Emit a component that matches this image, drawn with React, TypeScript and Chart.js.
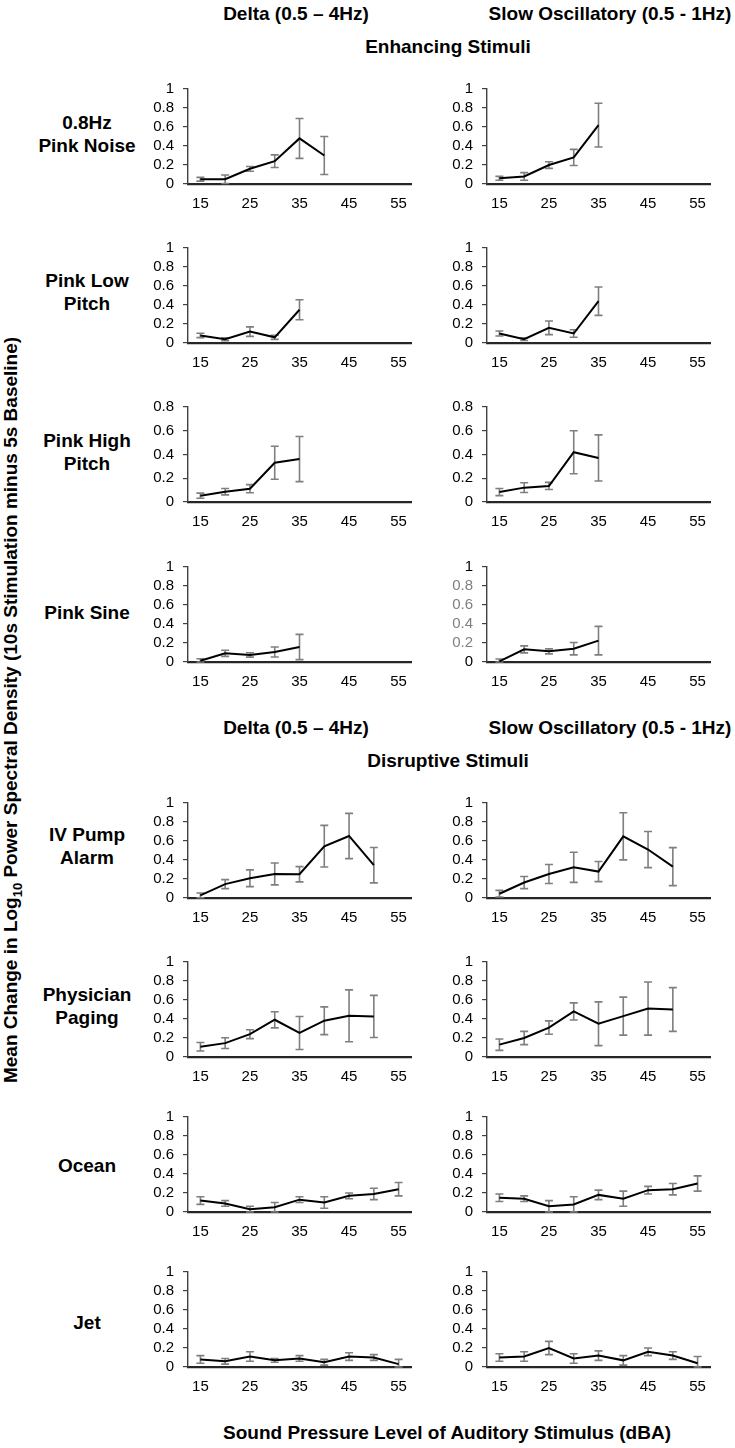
import React, { useEffect, useRef } from "react";
import { Chart, registerables } from "chart.js";

Chart.register(...registerables);
Chart.defaults.font.family = "'Liberation Sans', Arial, sans-serif";

// ---------- data ----------
const categories = ["15", "20", "25", "30", "35", "40", "45", "50", "55"];
const shownTicks = ["15", "25", "35", "45", "55"];
const columnTitles = ["Delta (0.5 \u2013 4Hz)", "Slow Oscillatory (0.5 - 1Hz)"];
const sectionTitles = ["Enhancing Stimuli", "Disruptive Stimuli"];
const rowLabels = [
  ["0.8Hz", "Pink Noise"],
  ["Pink Low", "Pitch"],
  ["Pink High", "Pitch"],
  ["Pink Sine"],
  ["IV Pump", "Alarm"],
  ["Physician", "Paging"],
  ["Ocean"],
  ["Jet"],
];
const rowYMax = [1, 1, 0.8, 1, 1, 1, 1, 1];

const pinkNoiseDelta = [0.05, 0.05, 0.16, 0.24, 0.48, 0.3];
const pinkNoiseDeltaErr = [0.02, 0.045, 0.025, 0.067, 0.21, 0.2];
const pinkNoiseSO = [0.06, 0.08, 0.2, 0.28, 0.62];
const pinkNoiseSOErr = [0.02, 0.04, 0.035, 0.085, 0.23];

const pinkLowDelta = [0.08, 0.04, 0.12, 0.06, 0.35];
const pinkLowDeltaErr = [0.023, 0.015, 0.05, 0.022, 0.106];
const pinkLowSO = [0.1, 0.04, 0.16, 0.1, 0.44];
const pinkLowSOErr = [0.026, 0.014, 0.072, 0.04, 0.149];

const pinkHighDelta = [0.053, 0.087, 0.112, 0.331, 0.362];
const pinkHighDeltaErr = [0.022, 0.027, 0.034, 0.139, 0.19];
const pinkHighSO = [0.084, 0.121, 0.135, 0.419, 0.371];
const pinkHighSOErr = [0.03, 0.041, 0.03, 0.181, 0.194];

const pinkSineDelta = [0.014, 0.091, 0.074, 0.105, 0.158];
const pinkSineDeltaErr = [0.02, 0.032, 0.023, 0.053, 0.133];
const pinkSineSO = [0.007, 0.133, 0.112, 0.14, 0.225];
const pinkSineSOErr = [0.025, 0.037, 0.026, 0.065, 0.15];

const ivPumpDelta = [0.028, 0.146, 0.208, 0.253, 0.25, 0.545, 0.653, 0.345];
const ivPumpDeltaErr = [0.025, 0.047, 0.088, 0.115, 0.08, 0.219, 0.238, 0.186];
const ivPumpSO = [0.045, 0.163, 0.253, 0.323, 0.278, 0.649, 0.51, 0.33];
const ivPumpSOErr = [0.035, 0.064, 0.1, 0.158, 0.106, 0.248, 0.19, 0.2];

const physicianDelta = [0.108, 0.146, 0.24, 0.392, 0.253, 0.382, 0.434, 0.427];
const physicianDeltaErr = [0.045, 0.057, 0.047, 0.085, 0.174, 0.146, 0.273, 0.222];
const physicianSO = [0.13, 0.2, 0.31, 0.48, 0.35, 0.43, 0.51, 0.5];
const physicianSOErr = [0.06, 0.07, 0.07, 0.09, 0.23, 0.2, 0.28, 0.23];

const oceanDelta = [0.12, 0.09, 0.03, 0.05, 0.13, 0.1, 0.17, 0.19, 0.24];
const oceanDeltaErr = [0.04, 0.03, 0.03, 0.05, 0.03, 0.06, 0.03, 0.06, 0.07];
const oceanSO = [0.15, 0.14, 0.06, 0.08, 0.18, 0.14, 0.23, 0.24, 0.3];
const oceanSOErr = [0.04, 0.03, 0.06, 0.08, 0.05, 0.08, 0.04, 0.06, 0.08];

const jetDelta = [0.08, 0.06, 0.11, 0.07, 0.09, 0.05, 0.11, 0.1, 0.03];
const jetDeltaErr = [0.04, 0.03, 0.05, 0.02, 0.03, 0.03, 0.04, 0.03, 0.05];
const jetSO = [0.1, 0.11, 0.2, 0.09, 0.12, 0.07, 0.16, 0.12, 0.04];
const jetSOErr = [0.04, 0.05, 0.07, 0.05, 0.05, 0.05, 0.04, 0.04, 0.07];

const seriesByRow = [
  [[pinkNoiseDelta, pinkNoiseDeltaErr], [pinkNoiseSO, pinkNoiseSOErr]],
  [[pinkLowDelta, pinkLowDeltaErr], [pinkLowSO, pinkLowSOErr]],
  [[pinkHighDelta, pinkHighDeltaErr], [pinkHighSO, pinkHighSOErr]],
  [[pinkSineDelta, pinkSineDeltaErr], [pinkSineSO, pinkSineSOErr]],
  [[ivPumpDelta, ivPumpDeltaErr], [ivPumpSO, ivPumpSOErr]],
  [[physicianDelta, physicianDeltaErr], [physicianSO, physicianSOErr]],
  [[oceanDelta, oceanDeltaErr], [oceanSO, oceanSOErr]],
  [[jetDelta, jetDeltaErr], [jetSO, jetSOErr]],
];

// ---------- layout ----------
const ROW_ZERO = [184, 343, 502, 662, 898, 1057, 1212, 1367];
const ROW_LABEL_Y = [134, 292, 452, 612, 846, 1006, 1165, 1322];
const PLOT_H = 95;
const AXIS_LEFT = [188, 487];
const PLOT_W = 223;
const Y_AXIS_W = 48;
const X_AXIS_H = 34;
const PAD_TOP = 12;
const PAD_RIGHT = 4;
const FONT = "'Liberation Sans', Arial, sans-serif";

function makeErrorBars(mean: number[], err: number[]) {
  return {
    id: "errorBars",
    beforeDatasetsDraw(chart: any) {
      const xs = chart.scales.x;
      const ys = chart.scales.y;
      const ctx = chart.ctx;
      ctx.save();
      ctx.strokeStyle = "#7f7f7f";
      ctx.lineWidth = 1.6;
      for (let i = 0; i < mean.length; i++) {
        const x = xs.getPixelForValue(i);
        const hi = Math.min(mean[i] + err[i], ys.max);
        const lo = Math.max(mean[i] - err[i], ys.min);
        const yHi = ys.getPixelForValue(hi);
        const yLo = ys.getPixelForValue(lo);
        ctx.beginPath();
        ctx.moveTo(x, yHi);
        ctx.lineTo(x, yLo);
        ctx.moveTo(x - 4, yHi);
        ctx.lineTo(x + 4, yHi);
        ctx.moveTo(x - 4, yLo);
        ctx.lineTo(x + 4, yLo);
        ctx.stroke();
      }
      ctx.restore();
    },
  };
}

function Panel({ row, col }: { row: number; col: number }) {
  const ref = useRef<HTMLCanvasElement>(null);
  const [mean, err] = seriesByRow[row][col];
  const yMax = rowYMax[row];
  const grayMid = row === 3 && col === 1;
  const left = AXIS_LEFT[col] - Y_AXIS_W;
  const top = ROW_ZERO[row] - PLOT_H - PAD_TOP;
  const width = Y_AXIS_W + PLOT_W + PAD_RIGHT;
  const height = PAD_TOP + PLOT_H + X_AXIS_H;

  useEffect(() => {
    const chart = new Chart(ref.current as HTMLCanvasElement, {
      type: "line",
      data: {
        labels: categories,
        datasets: [
          {
            data: mean,
            borderColor: "#000000",
            borderWidth: 2,
            pointRadius: 0,
            tension: 0,
            fill: false,
          },
        ],
      },
      options: {
        animation: false,
        responsive: false,
        events: [],
        layout: { padding: { top: PAD_TOP, right: PAD_RIGHT, left: 0, bottom: 0 } },
        plugins: { legend: { display: false }, tooltip: { enabled: false } },
        scales: {
          x: {
            type: "category",
            offset: true,
            grid: { display: false, drawTicks: false, tickLength: 0 },
            border: { display: true, color: "#262626", width: 2.2 },
            ticks: {
              autoSkip: false,
              maxRotation: 0,
              padding: 11,
              color: "#000000",
              font: { size: 15, family: FONT },
              callback: (_v: any, i: number) =>
                shownTicks.includes(categories[i]) ? categories[i] : "",
            },
            afterFit: (s: any) => {
              s.height = X_AXIS_H;
              s.paddingLeft = 0;
              s.paddingRight = 0;
            },
          },
          y: {
            min: 0,
            max: yMax,
            grid: {
              display: true,
              drawOnChartArea: false,
              drawTicks: true,
              tickLength: 5,
              color: "#404040",
              lineWidth: 1.2,
            },
            border: { display: true, color: "#404040", width: 1.4 },
            ticks: {
              stepSize: 0.2,
              autoSkip: false,
              padding: 9,
              font: { size: 15, family: FONT },
              color: (c: any) =>
                grayMid && c.tick && c.tick.value > 0.01 && c.tick.value < 0.99
                  ? "#7f7f7f"
                  : "#000000",
              callback: (v: any) => String(Math.round(Number(v) * 10) / 10),
            },
            afterFit: (s: any) => {
              s.width = Y_AXIS_W;
              s.paddingTop = 0;
              s.paddingBottom = 0;
            },
          },
        },
      },
      plugins: [makeErrorBars(mean, err)],
    } as any);
    return () => chart.destroy();
  }, []);

  return (
    <canvas
      ref={ref}
      width={width}
      height={height}
      style={{ position: "absolute", left, top, width, height }}
    />
  );
}

const textStyle: React.CSSProperties = {
  position: "absolute",
  transform: "translate(-50%, -50%)",
  whiteSpace: "nowrap",
  fontWeight: "bold",
  fontSize: 19,
  fontFamily: FONT,
  color: "#000",
  lineHeight: "23px",
  textAlign: "center",
};

function Label({ x, y, children }: { x: number; y: number; children: React.ReactNode }) {
  return <div style={{ ...textStyle, left: x, top: y }}>{children}</div>;
}

export default function App() {
  const panels: React.ReactNode[] = [];
  for (let r = 0; r < 8; r++) {
    for (let c = 0; c < 2; c++) {
      panels.push(<Panel key={`${r}-${c}`} row={r} col={c} />);
    }
  }
  return (
    <div
      style={{
        position: "absolute",
        left: 0,
        top: 0,
        width: 735,
        height: 1448,
        background: "#ffffff",
        overflow: "hidden",
      }}
    >
      <Label x={296} y={13}>{columnTitles[0]}</Label>
      <Label x={610} y={13}>{columnTitles[1]}</Label>
      <Label x={448} y={46}>{sectionTitles[0]}</Label>
      <Label x={296} y={727}>{columnTitles[0]}</Label>
      <Label x={610} y={727}>{columnTitles[1]}</Label>
      <Label x={448} y={760}>{sectionTitles[1]}</Label>
      {rowLabels.map((lines, r) => (
        <Label key={r} x={87} y={ROW_LABEL_Y[r]}>
          {lines.map((l, i) => (
            <div key={i}>{l}</div>
          ))}
        </Label>
      ))}
      <div
        style={{
          ...textStyle,
          left: 14,
          top: 710,
          transform: "translate(-50%, -50%) rotate(-90deg)",
        }}
      >
        Mean Change in Log<sub style={{ fontSize: 13 }}>10</sub> Power Spectral Density (10s
        Stimulation minus 5s Baseline)
      </div>
      <Label x={447} y={1432}>Sound Pressure Level of Auditory Stimulus (dBA)</Label>
      {panels}
    </div>
  );
}
